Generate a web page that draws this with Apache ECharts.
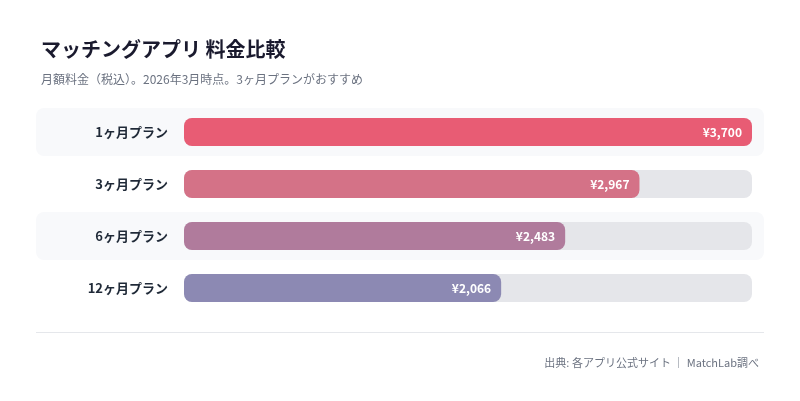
<!DOCTYPE html>
<html>
<head>
<meta charset="utf-8">
<script src="https://cdn.jsdelivr.net/npm/echarts@6/dist/echarts.min.js"></script>
<style>
  html, body { margin: 0; padding: 0; background: #fff; }
  #main { width: 800px; height: 401px; }
</style>
</head>
<body>
<div id="main"></div>
<script>
// データ
var plans = ['1ヶ月プラン', '3ヶ月プラン', '6ヶ月プラン', '12ヶ月プラン'];
var prices = [3700, 2967, 2483, 2066];
var barColors = ['#e85c74', '#d47287', '#b07b9c', '#8c89b3'];

var font = '"Noto Sans CJK JP", "Noto Sans", sans-serif';
var chart = echarts.init(document.getElementById('main'));

chart.setOption({
  animation: false,
  textStyle: { fontFamily: font },
  title: [
    {
      text: 'マッチングアプリ 料金比較',
      left: 36, top: 34,
      textStyle: { fontSize: 20, fontWeight: 'bold', color: '#1a1a2e', fontFamily: font }
    },
    {
      text: '月額料金（税込）。2026年3月時点。3ヶ月プランがおすすめ',
      left: 36, top: 68,
      textStyle: { fontSize: 12, fontWeight: 'normal', color: '#6b7280', fontFamily: font }
    },
    {
      text: '出典: 各アプリ公式サイト ｜ MatchLab調べ',
      right: 36, top: 352,
      textStyle: { fontSize: 11, fontWeight: 'normal', color: '#6b7280', fontFamily: font }
    }
  ],
  graphic: [
    { type: 'rect', z: -10, shape: { x: 36, y: 108, width: 728, height: 48, r: 8 }, style: { fill: '#f8f9fb' } },
    { type: 'rect', z: -10, shape: { x: 36, y: 212, width: 728, height: 48, r: 8 }, style: { fill: '#f8f9fb' } },
    { type: 'line', shape: { x1: 36, y1: 332.5, x2: 764, y2: 332.5 }, style: { stroke: '#e5e7eb', lineWidth: 1 } }
  ],
  grid: { left: 184, right: 48, top: 106, bottom: 87 },
  xAxis: { type: 'value', min: 0, max: 3700, show: false },
  yAxis: {
    type: 'category',
    data: plans,
    inverse: true,
    axisLine: { show: false },
    axisTick: { show: false },
    axisLabel: { margin: 16, fontSize: 13, fontWeight: 'bold', color: '#1f2937', fontFamily: font }
  },
  series: [{
    type: 'bar',
    barWidth: 28,
    data: prices.map(function (v, i) { return { value: v, itemStyle: { color: barColors[i] } }; }),
    itemStyle: { borderRadius: 8 },
    showBackground: true,
    backgroundStyle: { color: '#e5e6ea', borderRadius: 8 },
    label: {
      show: true,
      position: 'insideRight',
      distance: 10,
      color: '#fff',
      fontSize: 12,
      fontWeight: 'bold',
      fontFamily: font,
      formatter: function (p) { return '¥' + p.value.toLocaleString('en-US'); }
    }
  }]
});
</script>
</body>
</html>
